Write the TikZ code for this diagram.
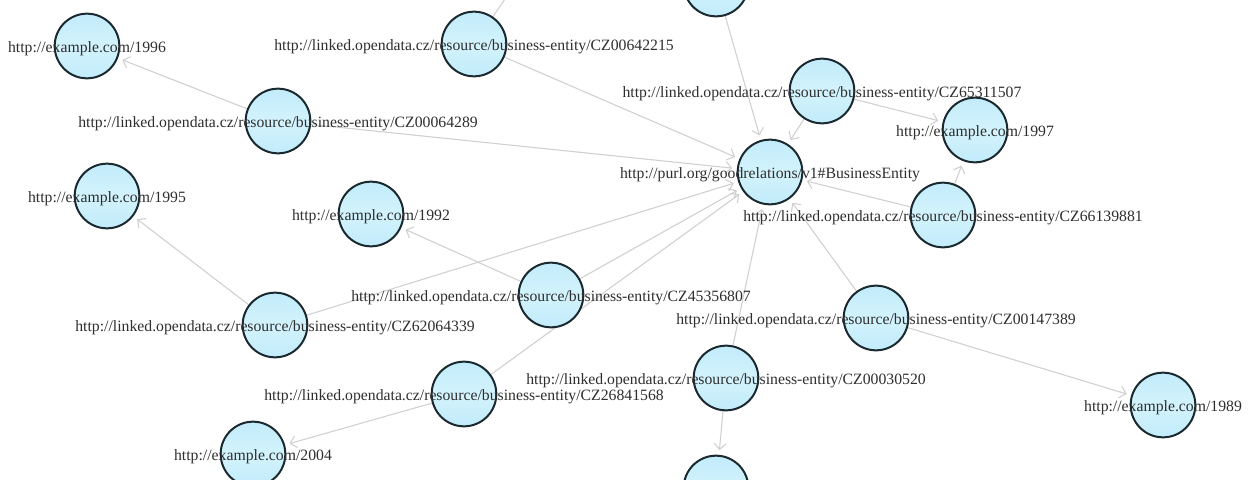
\documentclass[tikz,border=0pt]{standalone}
\usepackage{fontspec}
\setmainfont{Liberation Serif}
\usetikzlibrary{arrows.meta}
\pgfdeclarelayer{paper}
\pgfdeclarelayer{edges}
\pgfsetlayers{paper,edges,main}
\definecolor{nodeline}{HTML}{1B2A30}
\definecolor{nodefill}{HTML}{C2EBFA}
\definecolor{nodelight}{HTML}{D2F3FD}
\definecolor{edgecol}{HTML}{D0D0D0}
\definecolor{textcol}{HTML}{2E2E2E}
\tikzset{
  ent/.style={circle, draw=nodeline, line width=1.5pt, minimum size=48.5pt, inner sep=0pt,
    top color=nodefill, bottom color=nodefill, middle color=nodelight},
  lbl/.style={font=\fontsize{11.8pt}{13pt}\selectfont, text=textcol, inner sep=0pt, anchor=center, yshift=-1.8pt},
  rel/.style={draw=edgecol, line width=0.8pt, -{Straight Barb[length=4.5pt,width=9pt,line width=0.8pt]}, shorten >=3.5pt},
  plain/.style={draw=edgecol, line width=0.8pt}
}
\begin{document}
\begin{tikzpicture}[x=0.75pt,y=-0.75pt]
\useasboundingbox (0,0) rectangle (1254,479);
\clip (0,0) rectangle (1254,479);
\begin{pgfonlayer}{paper}
\fill[white] (0,0) rectangle (1254,479);
\end{pgfonlayer}
% node positions
\coordinate (p1996) at (87,46);
\coordinate (p064289) at (278,121);
\coordinate (p642215) at (474,44);
\coordinate (ptop) at (716,-16);
\coordinate (p653115) at (822,91);
\coordinate (p1997) at (975,130);
\coordinate (pBE) at (770,172);
\coordinate (p661398) at (943,215);
\coordinate (p1995) at (107,196);
\coordinate (p1992) at (371,214);
\coordinate (p620643) at (275,325);
\coordinate (p453568) at (551,295);
\coordinate (p268415) at (464,394);
\coordinate (p2004) at (253,454);
\coordinate (p001473) at (876,318);
\coordinate (p000305) at (726,378);
\coordinate (p1989) at (1163,405);
\coordinate (pbottom) at (716,488);
\coordinate (offtop) at (514,-14);
% circles
\node[ent] (n1996) at (p1996) {};
\node[ent] (n064289) at (p064289) {};
\node[ent] (n642215) at (p642215) {};
\node[ent] (ntop) at (ptop) {};
\node[ent] (n653115) at (p653115) {};
\node[ent] (n1997) at (p1997) {};
\node[ent] (nBE) at (pBE) {};
\node[ent] (n661398) at (p661398) {};
\node[ent] (n1995) at (p1995) {};
\node[ent] (n1992) at (p1992) {};
\node[ent] (n620643) at (p620643) {};
\node[ent] (n453568) at (p453568) {};
\node[ent] (n268415) at (p268415) {};
\node[ent] (n2004) at (p2004) {};
\node[ent] (n001473) at (p001473) {};
\node[ent] (n000305) at (p000305) {};
\node[ent] (n1989) at (p1989) {};
\node[ent] (nbottom) at (pbottom) {};
% edges (behind circles)
\begin{pgfonlayer}{edges}
\draw[rel] (n064289) -- (n1996);
\draw[rel] (n064289) -- (nBE);
\draw[rel] (n642215) -- (nBE);
\draw[plain] (n642215) -- (offtop);
\draw[rel] (ntop) -- (nBE);
\draw[rel] (n653115) -- (nBE);
\draw[rel] (n653115) -- (n1997);
\draw[rel] (n661398) -- (n1997);
\draw[rel] (n661398) -- (nBE);
\draw[rel] (n620643) -- (n1995);
\draw[rel] (n620643) -- (nBE);
\draw[rel] (n453568) -- (n1992);
\draw[rel] (n453568) -- (nBE);
\draw[rel] (n268415) -- (nBE);
\draw[rel] (n268415) -- (n2004);
\draw[rel] (n000305) -- (nBE);
\draw[rel] (n000305) -- (nbottom);
\draw[rel] (n001473) -- (nBE);
\draw[rel] (n001473) -- (n1989);
\end{pgfonlayer}
% labels
\node[lbl] (l1996) at (p1996) {http://example.com/1996};
\node[lbl] (l064289) at (p064289) {http://linked.opendata.cz/resource/business-entity/CZ00064289};
\node[lbl] (l642215) at (p642215) {http://linked.opendata.cz/resource/business-entity/CZ00642215};
\node[lbl] (l653115) at (p653115) {http://linked.opendata.cz/resource/business-entity/CZ65311507};
\node[lbl] (l1997) at (p1997) {http://example.com/1997};
\node[lbl] (lBE) at (pBE) {http://purl.org/goodrelations/v1\#BusinessEntity};
\node[lbl] (l661398) at (p661398) {http://linked.opendata.cz/resource/business-entity/CZ66139881};
\node[lbl] (l1995) at (p1995) {http://example.com/1995};
\node[lbl] (l1992) at (p1992) {http://example.com/1992};
\node[lbl] (l620643) at (p620643) {http://linked.opendata.cz/resource/business-entity/CZ62064339};
\node[lbl] (l453568) at (p453568) {http://linked.opendata.cz/resource/business-entity/CZ45356807};
\node[lbl] (l268415) at (p268415) {http://linked.opendata.cz/resource/business-entity/CZ26841568};
\node[lbl] (l2004) at (p2004) {http://example.com/2004};
\node[lbl] (l001473) at (p001473) {http://linked.opendata.cz/resource/business-entity/CZ00147389};
\node[lbl] (l000305) at (p000305) {http://linked.opendata.cz/resource/business-entity/CZ00030520};
\node[lbl] (l1989) at (p1989) {http://example.com/1989};
\end{tikzpicture}
\end{document}
